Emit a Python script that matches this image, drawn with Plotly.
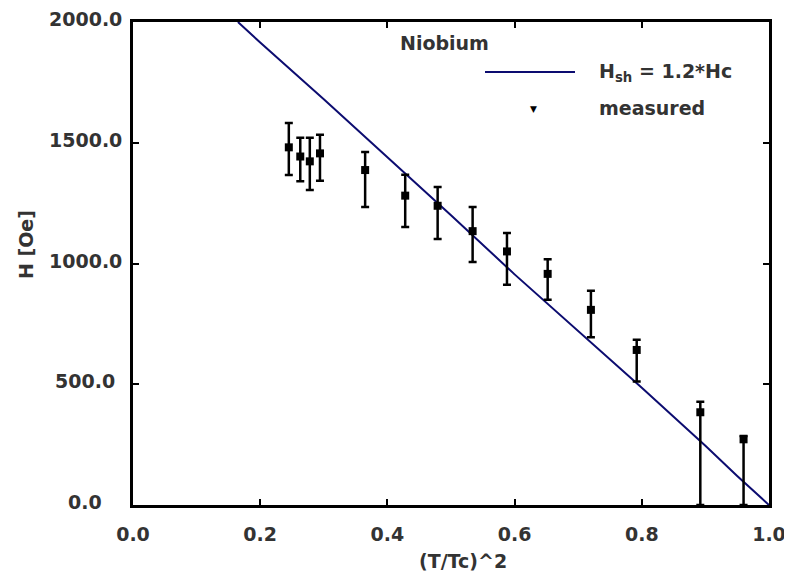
import plotly.graph_objects as go

# Critical field curve H_sh = 1.2*Hc
curve_t2 = [0.165, 0.2, 0.3, 0.4, 0.5, 0.6, 0.7, 0.8, 0.9, 0.95, 1.0]
curve_h = [2000, 1915, 1680, 1440, 1200, 955, 720, 485, 245, 120, 0]

# Measured points with asymmetric error bars
meas_t2 = [0.245, 0.263, 0.278, 0.294, 0.365, 0.428, 0.479, 0.534, 0.588, 0.652, 0.720, 0.792, 0.892, 0.960]
meas_h = [1481, 1443, 1423, 1456, 1387, 1281, 1239, 1134, 1050, 957, 808, 642, 384, 272]
err_up = [101, 78, 98, 77, 75, 87, 78, 100, 76, 61, 79, 42, 44, 14]
err_down = [115, 102, 119, 113, 153, 130, 138, 128, 138, 107, 113, 131, 384, 272]

x_ticks = [0.0, 0.2, 0.4, 0.6, 0.8, 1.0]
y_ticks = [0, 500, 1000, 1500, 2000]

FONT = "DejaVu Sans"
PAGE = 8  # default body margin of the html page
W, H = 792 - PAGE, 575 - PAGE
L, R, T, B = 133 - PAGE, 23, 22 - PAGE, 70


def px(x):
    return (x - PAGE - L) / (W - L - R)


def py(y):
    return (H + PAGE - B - y) / (H - T - B)


fig = go.Figure()

fig.add_trace(go.Scatter(x=curve_t2, y=curve_h, mode="lines",
                         line=dict(color="#0c0c70", width=2), showlegend=False))

fig.add_trace(go.Scatter(
    x=meas_t2, y=meas_h, mode="markers",
    marker=dict(symbol="square", size=8, color="black"),
    error_y=dict(type="data", symmetric=False, array=err_up, arrayminus=err_down,
                 color="black", thickness=2.5, width=4),
    showlegend=False, cliponaxis=False))

txt = dict(family=FONT, size=19, color="#333", weight="bold")

axis_common = dict(showline=True, linecolor="black", linewidth=2.5, mirror="ticks",
                   ticks="inside", ticklen=6, tickwidth=2, tickcolor="black",
                   showgrid=False, zeroline=False, tickformat=".1f", automargin=False,
                   tickfont=txt)

fig.update_xaxes(range=[0, 1], tickvals=x_ticks, ticklabelstandoff=10, **axis_common)
fig.update_yaxes(range=[0, 2000], tickvals=y_ticks, showticklabels=False, **axis_common)

# y tick labels are centred in the reference, so draw them as text
for v in y_ticks:
    fig.add_annotation(text=f"{v:.1f}", xref="paper", yref="y", x=px(85), y=v,
                       xanchor="center", yanchor="middle", yshift=3,
                       showarrow=False, font=txt)

annotations = [
    dict(text="(T/Tc)^2", x=px(463), y=py(561), xanchor="center", yanchor="middle"),
    dict(text="H [Oe]", x=px(26), y=py(245), xanchor="center", yanchor="middle", textangle=-90),
    dict(text="Niobium", x=px(398), y=py(43), xanchor="left", yanchor="middle"),
    dict(text="H<sub>sh</sub> = 1.2*Hc", x=px(597), y=py(73), xanchor="left", yanchor="middle"),
    dict(text="measured", x=px(597), y=py(108), xanchor="left", yanchor="middle"),
    dict(text="▼", x=px(533), y=py(109), xanchor="center", yanchor="middle",
         font=dict(family=FONT, size=9, color="black")),
]
for a in annotations:
    a.setdefault("font", txt)
    fig.add_annotation(xref="paper", yref="paper", showarrow=False, **a)

fig.add_shape(type="line", xref="paper", yref="paper", x0=px(485), x1=px(575),
              y0=py(72), y1=py(72), line=dict(color="#0c0c70", width=2))

fig.update_layout(width=W, height=H, margin=dict(l=L, r=R, t=T, b=B),
                  plot_bgcolor="white", paper_bgcolor="white", showlegend=False)

fig.write_html("out.html")
